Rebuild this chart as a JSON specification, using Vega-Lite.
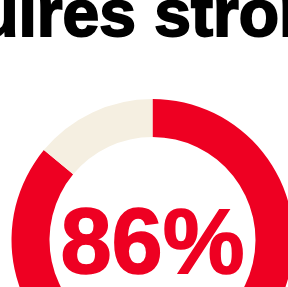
{
  "$schema": "https://vega.github.io/schema/vega-lite/v6.json",
  "autosize": {"type": "none"},
  "width": 271,
  "height": 94,
  "padding": {"left": 17, "top": 193, "right": 0, "bottom": 0},
  "background": "white",
  "config": {"view": {"stroke": null}},
  "datasets": {
    "share": [
      {"answer": "yes", "percent": 86, "rank": 1},
      {"answer": "no", "percent": 14, "rank": 2}
    ],
    "labels": [
      {"kind": "headline", "text": "Requires strong"}
    ],
    "big": [
      {"text": "86%"}
    ]
  },
  "layer": [
    {
      "data": {"name": "share"},
      "mark": {"type": "arc", "radius": 141, "radius2": 103},
      "encoding": {
        "theta": {"field": "percent", "type": "quantitative", "stack": true},
        "order": {"field": "rank", "type": "quantitative"},
        "color": {
          "field": "answer",
          "type": "nominal",
          "scale": {"domain": ["yes", "no"], "range": ["#EE0022", "#F5EFE1"]},
          "legend": null
        }
      }
    },
    {
      "data": {"name": "big"},
      "mark": {
        "type": "text",
        "font": "Liberation Sans",
        "fontWeight": "bold",
        "fontSize": 92,
        "color": "#EE0022",
        "stroke": "#EE0022",
        "strokeWidth": 1.5,
        "align": "center",
        "baseline": "alphabetic",
        "dy": 33
      },
      "encoding": {"text": {"field": "text", "type": "nominal"}}
    },
    {
      "data": {"name": "labels"},
      "mark": {
        "type": "text",
        "font": "Liberation Sans",
        "fontWeight": "bold",
        "fontSize": 66,
        "color": "#000000",
        "stroke": "#000000",
        "strokeWidth": 2,
        "align": "left",
        "baseline": "alphabetic",
        "dx": -299,
        "dy": -204
      },
      "encoding": {"text": {"field": "text", "type": "nominal"}}
    }
  ]
}
